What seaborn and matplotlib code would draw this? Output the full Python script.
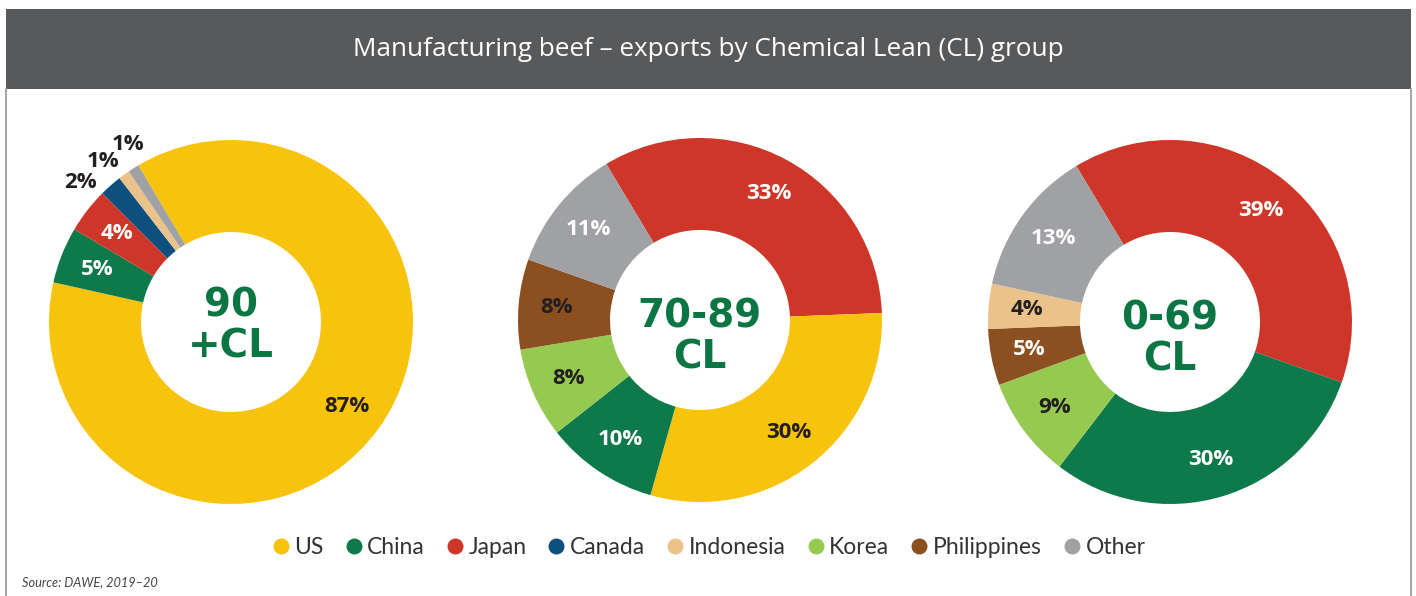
import numpy as np
import matplotlib
matplotlib.use("Agg")
import matplotlib.pyplot as plt
from matplotlib.patches import Rectangle
from matplotlib.lines import Line2D
import seaborn as sns

# ---------------- data ----------------
title = "Manufacturing beef \u2013 exports by Chemical Lean (CL) group"
source = "Source: DAWE, 2019\u201320"
countries = ["US", "China", "Japan", "Canada", "Indonesia", "Korea", "Philippines", "Other"]
group_labels = ["90\n+CL", "70-89\nCL", "0-69\nCL"]
share_90 = [87, 5, 4, 2, 1, 0, 0, 1]
share_70 = [30, 10, 33, 0, 0, 8, 8, 11]
share_0 = [0, 30, 39, 0, 4, 9, 5, 13]
# clockwise drawing order of each donut
order_90 = ["US", "China", "Japan", "Canada", "Indonesia", "Other"]
order_70 = ["Japan", "US", "China", "Korea", "Philippines", "Other"]
order_0 = ["Japan", "China", "Korea", "Philippines", "Indonesia", "Other"]

# ---------------- style ----------------
sns.set_theme(style="white")
plt.rcParams["font.family"] = ["Lato", "DejaVu Sans"]
palette = sns.color_palette(["#f7c30c", "#0e7a4b", "#cd3629", "#0d4f7d",
                             "#ebc38a", "#96c950", "#8c5020", "#a0a1a4"])
color_of = dict(zip(countries, palette))
light_labels = [{"China", "Japan"}, {"China", "Japan", "Other"},
                {"China", "Japan", "Philippines", "Other"}]
start_angles = [120.6, 121, 121]
center_text_down = [4, 17, 17]  # px, downward shift of the centre text
DARK = "#231f20"
GREEN = "#0b7543"

W, H = 1416, 596
fig = plt.figure(figsize=(W / 100, H / 100), dpi=100)
fig.patch.set_facecolor("white")

# title bar and frame
fig.add_artist(Rectangle((6 / W, (H - 89) / H), 1405 / W, 80 / H,
                         transform=fig.transFigure, facecolor="#58595b",
                         edgecolor="none", zorder=0))
fig.add_artist(Line2D([6 / W, 6 / W], [0, (H - 89) / H], transform=fig.transFigure,
                      color="#a6a6a6", lw=1.5))
fig.add_artist(Line2D([1411 / W, 1411 / W], [0, (H - 89) / H], transform=fig.transFigure,
                      color="#a6a6a6", lw=1.5))
fig.text(708.5 / W, (H - 49) / H, title, color="white", fontsize=18.8,
         ha="center", va="center", family=["Open Sans", "DejaVu Sans"])

R = 182  # outer radius in px
hole = 90 / 182
centers = [(231, 322), (700, 320), (1170, 322)]
datasets = [share_90, share_70, share_0]
orders = [order_90, order_70, order_0]
LIM = 1.25
side = 2 * LIM * R

for k, (cx, cy) in enumerate(centers):
    ax = fig.add_axes([(cx - side / 2) / W, (H - cy - side / 2) / H, side / W, side / H])
    vals = dict(zip(countries, datasets[k]))
    names = orders[k]
    sizes = [vals[n] for n in names]
    wedges, _ = ax.pie(sizes, colors=[color_of[n] for n in names], startangle=start_angles[k],
                       counterclock=False, radius=1.0,
                       wedgeprops=dict(width=1 - hole, linewidth=0),
                       frame=True)
    ax.set_xlim(-LIM, LIM)
    ax.set_ylim(-LIM, LIM)
    ax.set_aspect("equal")
    ax.axis("off")
    mids = [(w.theta1 + w.theta2) / 2 for w in wedges]
    small = [i for i, s in enumerate(sizes) if s < 3]
    if small:
        base = np.mean([mids[i] for i in small]) + 2
        n = len(small)
        outside_ang = {i: base + (n - 1) / 2 * 8.5 - j * 8.5 for j, i in enumerate(small)}
    for i, (name, s) in enumerate(zip(names, sizes)):
        if i in small:
            a = np.deg2rad(outside_ang[i])
            r = 1.13
            col = DARK
        else:
            a = np.deg2rad(mids[i])
            r = 0.79
            col = "white" if name in light_labels[k] else DARK
        ax.text(r * np.cos(a), r * np.sin(a), f"{s}%", ha="center", va="center",
                fontsize=16, fontweight="bold", color=col, family=["Open Sans", "DejaVu Sans"])
    ax.text(0, -center_text_down[k] / R, group_labels[k], ha="center", va="center", fontsize=28,
            fontweight="bold", color=GREEN, linespacing=1.1,
            family=["DejaVu Sans"])

handles = [Line2D([], [], marker="o", linestyle="none", markersize=11.5,
                  markerfacecolor=color_of[c], markeredgewidth=0, label=c) for c in countries]
leg = fig.legend(handles=handles, loc="center", bbox_to_anchor=(709 / W, (H - 548) / H),
                 ncol=len(countries), frameon=False, handlelength=0.7, handletextpad=0.25,
                 columnspacing=0.95, labelcolor="#333333",
                 prop=dict(family="Lato", weight="normal", size=16.5))

fig.text(22 / W, (H - 582) / H, source, fontsize=9.2, style="italic", color="#444444",
         ha="left", va="center")

fig.savefig("out.png", dpi=100, facecolor="white")
